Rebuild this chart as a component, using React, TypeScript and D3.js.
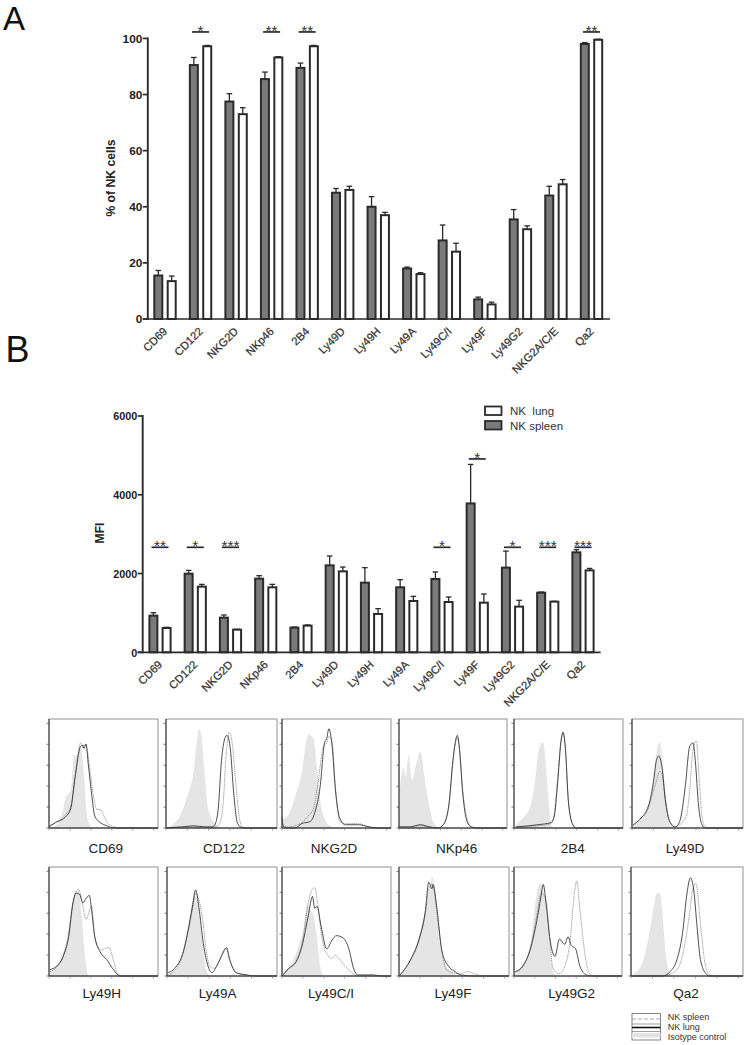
import React from "react";
import * as d3 from "d3";

const markers = ["CD69","CD122","NKG2D","NKp46","2B4","Ly49D","Ly49H","Ly49A","Ly49C/I","Ly49F","Ly49G2","NKG2A/C/E","Qa2"];

// Panel A (% of NK cells)
const pctSpleen = [15.5,90.5,77.5,85.5,89.5,45,40,18,28,7,35.5,44,98];
const pctSpleenTop = [17.3,93.2,80.3,88,91.2,46.5,43.6,18.5,33.5,7.8,39,47.3,98.5];
const pctLung = [13.5,97.2,73,93.2,97.2,46,37,16,24,5.2,32,48,99.5];
const pctLungTop = [15.3,97.5,75.3,93.5,97.5,47.3,38,16.5,27,6,33.2,49.7,99.7];
const pctStars: [string,string,number][] = [["CD122","*",102.3],["NKp46","**",102.3],["2B4","**",102.3],["Qa2","**",102.3]];
const pctTicks = [0,20,40,60,80,100];

// Panel B (MFI)
const mfiSpleen = [930,1996,880,1870,626,2208,1768,1650,1861,3780,2150,1514,2538];
const mfiSpleenTop = [1005,2080,947,1945,640,2445,2150,1845,2040,4770,2570,1530,2605];
const mfiLung = [617,1667,575,1650,677,2055,973,1303,1277,1260,1160,1286,2080];
const mfiLungTop = [635,1725,584,1725,694,2165,1108,1420,1405,1480,1320,1295,2130];
const mfiStars: [string,string,number][] = [["CD69","**",2666],["CD122","*",2666],["NKG2D","***",2666],["Ly49C/I","*",2666],["Ly49F","*",4910],["Ly49G2","*",2666],["NKG2A/C/E","***",2666],["Qa2","***",2666]];
const mfiTicks = [0,2000,4000,6000];

// Flow histograms: [fluorescence %, count %]
type P = [number,number];
const cd69Iso: P[] = [[0,0],[7,3],[13,17],[15,27],[20,35],[23,67],[26,66],[29,74],[32,50],[35,10],[38,2],[41,0]];
const cd69Lung: P[] = [[0,1],[6,5],[15,10],[20,18],[24,47],[29,75],[31,76],[32,73],[34,77],[36,59],[39,32],[42,11],[47,5],[53,2],[60,0],[100,0]];
const cd69Spleen: P[] = [[0,2],[6,5],[15,12],[20,20],[24,48],[29,78],[31,74],[33,77],[35,72],[38,50],[41,28],[44,17],[47,17],[50,12],[54,4],[60,1],[65,0],[100,0]];
const cd122Iso: P[] = [[2,1],[6,3],[14,14],[20,32],[25,53],[28,81],[30,91],[32,84],[35,47],[38,17],[43,6],[47,1],[50,0]];
const cd122Lung: P[] = [[0,0],[15,1],[25,2],[35,1],[42,1],[44,3],[47,17],[50,62],[53,82],[55,85],[58,72],[61,32],[64,6],[67,1],[72,0],[100,0]];
const cd122Spleen: P[] = [[0,0],[15,1],[25,1],[35,1],[46,1],[50,10],[52,30],[54,65],[56,84],[57,88],[60,75],[63,40],[66,10],[68,2],[72,0],[100,0]];
const nkg2dIso: P[] = [[1,8],[7,14],[13,32],[18,50],[22,78],[24,86],[26,85],[29,82],[32,56],[35,26],[39,9],[44,2],[48,0]];
const nkg2dLung: P[] = [[0,10],[1,2],[5,0],[12,0],[18,4],[26,6],[30,14],[35,38],[39,78],[41,82],[43,91],[46,75],[49,35],[53,9],[58,3],[70,3],[80,1],[88,0],[100,0]];
const nkg2dSpleen: P[] = [[0,10],[1,2],[5,1],[12,2],[18,5],[24,11],[29,18],[33,41],[38,75],[41,78],[43,84],[46,79],[49,38],[53,6],[58,4],[70,4],[80,1],[88,0],[100,0]];
const nkp46Iso: P[] = [[0,0],[1,38],[4,55],[6,47],[9,67],[12,44],[16,59],[20,70],[24,44],[27,26],[32,5],[36,1],[40,0]];
const nkp46Lung: P[] = [[0,1],[10,1],[20,3],[28,1],[36,0],[41,3],[46,20],[50,63],[52,78],[54,85],[56,72],[59,32],[63,6],[67,1],[72,0],[100,0]];
const nkp46Spleen: P[] = [[0,1],[10,1],[20,2],[28,1],[36,0],[41,3],[46,19],[50,60],[52,76],[54,83],[56,74],[59,35],[63,9],[67,1],[72,0],[100,0]];
const b4Iso: P[] = [[0,0],[2,3],[8,9],[15,20],[19,41],[22,66],[25,78],[27,78],[30,47],[33,11],[34,3],[36,0]];
const b4Lung: P[] = [[2,1],[22,3],[34,5],[37,11],[40,41],[43,78],[45,88],[47,75],[50,23],[54,3],[57,0],[100,0]];
const b4Spleen: P[] = [[2,1],[22,2],[34,4],[37,14],[40,45],[43,80],[45,87],[47,75],[50,24],[54,3],[57,0],[100,0]];
const d49Iso: P[] = [[1,1],[7,6],[15,20],[19,44],[22,69],[25,79],[28,56],[31,26],[34,6],[37,1],[40,0]];
const d49Lung: P[] = [[1,3],[7,8],[15,21],[19,40],[22,62],[24,66],[27,56],[30,26],[34,6],[39,1],[43,6],[48,38],[52,75],[55,78],[57,62],[60,20],[63,3],[66,0],[100,0]];
const d49Spleen: P[] = [[1,2],[7,7],[15,19],[19,33],[22,43],[25,52],[27,50],[30,26],[34,6],[38,1],[43,3],[49,11],[52,35],[55,72],[58,80],[60,53],[63,11],[66,1],[70,0],[100,0]];
const h49Iso: P[] = [[1,4],[10,15],[16,33],[21,64],[24,76],[27,79],[30,55],[33,18],[36,1],[39,0]];
const h49Lung: P[] = [[1,6],[7,9],[13,18],[18,36],[22,67],[25,76],[28,75],[31,67],[34,71],[37,74],[39,61],[42,36],[47,22],[53,15],[59,6],[65,0],[100,0]];
const h49Spleen: P[] = [[1,4],[7,8],[13,18],[18,37],[22,68],[27,80],[30,70],[34,52],[39,64],[42,36],[48,24],[51,25],[55,26],[59,15],[63,2],[68,0],[100,0]];
const a49Iso: P[] = [[1,1],[9,7],[15,24],[19,45],[22,64],[25,73],[28,69],[32,33],[35,9],[38,1],[41,0]];
const a49Lung: P[] = [[1,3],[7,7],[15,23],[19,41],[23,63],[26,79],[29,63],[33,30],[38,7],[41,3],[45,9],[50,19],[54,26],[57,15],[63,3],[72,1],[80,0],[100,0]];
const a49Spleen: P[] = [[1,1],[7,5],[15,22],[19,40],[23,60],[26,76],[29,70],[32,55],[36,21],[39,9],[43,7],[47,12],[50,21],[54,25],[57,15],[63,3],[72,1],[80,0],[100,0]];
const ci49Iso: P[] = [[1,2],[9,12],[15,27],[20,45],[23,65],[26,61],[29,55],[32,36],[35,9],[38,1],[41,0]];
const ci49Lung: P[] = [[1,1],[6,7],[13,13],[19,30],[24,55],[28,73],[30,62],[32,64],[36,45],[41,25],[46,33],[50,37],[56,35],[61,26],[66,6],[70,1],[84,1],[90,0],[100,0]];
const ci49Spleen: P[] = [[1,1],[6,6],[13,14],[19,33],[24,67],[27,78],[30,81],[33,64],[36,39],[42,19],[46,16],[49,19],[52,16],[58,9],[67,1],[72,0],[100,0]];
const f49Iso: P[] = [[1,1],[11,16],[17,33],[24,60],[28,82],[30,91],[33,76],[37,30],[42,12],[48,4],[54,0]];
const f49Lung: P[] = [[1,1],[11,16],[18,33],[24,60],[27,86],[30,80],[31,84],[34,66],[39,23],[45,9],[51,4],[56,1],[69,0],[100,0]];
const f49Spleen: P[] = [[1,1],[11,15],[18,32],[24,58],[27,80],[30,84],[32,78],[34,62],[39,22],[43,6],[49,3],[56,2],[62,4],[69,2],[76,0],[100,0]];
const g49Iso: P[] = [[1,1],[7,9],[15,27],[19,61],[24,85],[27,79],[32,45],[35,9],[38,1],[41,0]];
const g49Lung: P[] = [[1,4],[8,9],[15,24],[21,50],[25,73],[27,84],[30,64],[33,36],[38,18],[42,34],[47,29],[50,36],[53,28],[57,25],[61,9],[67,1],[72,0],[100,0]];
const g49Spleen: P[] = [[1,3],[8,8],[15,26],[21,55],[25,76],[27,75],[30,68],[33,35],[36,7],[42,2],[47,9],[52,33],[55,67],[58,87],[61,61],[66,18],[70,2],[75,0],[100,0]];
const qa2Iso: P[] = [[2,2],[10,12],[14,27],[19,55],[23,76],[26,76],[28,58],[31,21],[34,4],[36,0]];
const qa2Lung: P[] = [[0,0],[28,0],[35,4],[41,15],[46,39],[50,76],[53,90],[56,79],[59,45],[62,15],[67,2],[70,0],[100,0]];
const qa2Spleen: P[] = [[0,0],[28,0],[36,2],[43,9],[47,24],[52,55],[55,79],[58,85],[62,48],[66,12],[70,1],[75,0],[100,0]];

const histNames = ["CD69","CD122","NKG2D","NKp46","2B4","Ly49D","Ly49H","Ly49A","Ly49C/I","Ly49F","Ly49G2","Qa2"];
const histIso = [cd69Iso,cd122Iso,nkg2dIso,nkp46Iso,b4Iso,d49Iso,h49Iso,a49Iso,ci49Iso,f49Iso,g49Iso,qa2Iso];
const histLung = [cd69Lung,cd122Lung,nkg2dLung,nkp46Lung,b4Lung,d49Lung,h49Lung,a49Lung,ci49Lung,f49Lung,g49Lung,qa2Lung];
const histSpleen = [cd69Spleen,cd122Spleen,nkg2dSpleen,nkp46Spleen,b4Spleen,d49Spleen,h49Spleen,a49Spleen,ci49Spleen,f49Spleen,g49Spleen,qa2Spleen];

const FONT = "'Liberation Sans', Arial, sans-serif";
const DARK = "#2b2b2b";
const GRAY = "#7a7a7a";

const rowBoxes = [[719,828],[867,976]];
const colBoxes = [[[49,158],[166,277],[282,391],[399,507],[514,623],[632,743]],[[49,158],[167,277],[282,391],[399,509],[514,622],[631,743]]];
const captionX = [[105.7,224,334,456.7,572.7,685],[101.7,217.7,331,453,571.7,686]];
const captionY = [853,998];

function BarChart({ x0, x1, left, right, y0, y1, max, ticks, sp, spTop, lu, luTop, stars, title, titleX, titleY, halfGap, bw, tickFont }: any) {
  const x = d3.scalePoint<string>().domain(markers).range([x0, x1]);
  const y = d3.scaleLinear().domain([0, max]).range([y0, y1]);
  const bar = (c: string, v: number, top: number, dx: number, fill: string, k: string) => {
    const cx = (x(c) as number) + dx;
    return (
      <g key={k}>
        <line x1={cx} x2={cx} y1={y(v)} y2={y(top)} stroke={DARK} strokeWidth={1.3} />
        <line x1={cx - 2.8} x2={cx + 2.8} y1={y(top)} y2={y(top)} stroke={DARK} strokeWidth={1.3} />
        <rect x={cx - bw / 2} width={bw} y={y(v)} height={y0 - y(v)} fill={fill} stroke={DARK} strokeWidth={2} />
      </g>
    );
  };
  return (
    <g fontFamily={FONT}>
      {markers.map((c, i) => bar(c, lu[i], luTop[i], halfGap, "#fff", "l" + i))}
      {markers.map((c, i) => bar(c, sp[i], spTop[i], -halfGap, GRAY, "s" + i))}
      <line x1={left} x2={left} y1={y0 + 1} y2={y1 - 1} stroke={DARK} strokeWidth={1.9} />
      <line x1={left - 5} x2={right} y1={y0} y2={y0} stroke={DARK} strokeWidth={1.7} />
      {ticks.map((t: number) => (
        <g key={t}>
          <line x1={left - 5} x2={left} y1={y(t)} y2={y(t)} stroke={DARK} strokeWidth={1.7} />
          <text x={left - 5.5} y={y(t) + 4.2} textAnchor="end" fontSize={tickFont} fontWeight="bold" fill="#222">{t}</text>
        </g>
      ))}
      {markers.map((c) => (
        <text key={c} transform={`translate(${(x(c) as number) + 3},${y0 + 13}) rotate(-45)`} textAnchor="end" fontSize={11.2} stroke="#333" strokeWidth={0.25} fill="#333">{c}</text>
      ))}
      <text transform={`translate(${titleX},${titleY}) rotate(-90)`} textAnchor="middle" fontSize={12.2} fontWeight="bold" fill="#222">{title}</text>
      {stars.map(([c, s, v]: [string, string, number]) => {
        const cx = x(c) as number;
        return (
          <g key={c}>
            <line x1={cx - 8.5} x2={cx + 8.5} y1={y(v)} y2={y(v)} stroke={DARK} strokeWidth={1.7} />
            <text x={cx} y={y(v) + 3.6} textAnchor="middle" fontSize={15.5} fill="#333">{s}</text>
          </g>
        );
      })}
    </g>
  );
}

function Hist({ box, yr, iso, lung, spleen }: any) {
  const x = d3.scaleLinear().domain([0, 100]).range(box);
  const y = d3.scaleLinear().domain([0, 100]).range([yr[1], yr[0]]);
  const curve = d3.curveMonotoneX;
  const area = d3.area<P>().x((d) => x(d[0])).y0(yr[1]).y1((d) => y(d[1])).curve(curve);
  const line = d3.line<P>().x((d) => x(d[0])).y((d) => y(d[1])).curve(curve);
  const major = d3.range(0, 101, 19.2);
  const minor = d3.range(0, 101, 3.2);
  return (
    <g>
      <path d={area(iso) as string} fill="#e5e5e5" />
      <path d={line(spleen) as string} fill="none" stroke="#666" strokeWidth={0.6} strokeDasharray="1.4 0.7" />
      <path d={line(lung) as string} fill="none" stroke="#222" strokeWidth={0.8} />
      <rect x={box[0]} y={yr[0]} width={box[1] - box[0]} height={yr[1] - yr[0]} fill="none" stroke="#777" strokeWidth={0.8} />
      <line x1={box[0]} x2={box[0]} y1={yr[0]} y2={yr[1]} stroke="#333" strokeWidth={1} />
      <line x1={box[0]} x2={box[1]} y1={yr[1]} y2={yr[1]} stroke="#222" strokeWidth={1} />
      {major.map((t) => <line key={"y" + t} x1={box[0] - 2.5} x2={box[0]} y1={y(t)} y2={y(t)} stroke="#555" strokeWidth={0.8} />)}
      {minor.map((t) => <line key={"x" + t} x1={x(t)} x2={x(t)} y1={yr[1]} y2={yr[1] + (Math.round(t / 3.2) % 6 === 0 ? 2.5 : 1.2)} stroke="#666" strokeWidth={0.6} />)}
    </g>
  );
}

export default function App() {
  return (
    <svg width={745} height={1045} viewBox="0 0 745 1045" style={{ position: "absolute", left: 0, top: 0, display: "block", background: "#fff" }}>
      <text x={3} y={30} fontFamily={FONT} fontSize={33} fill="#111">A</text>
      <text x={5.5} y={362} fontFamily={FONT} fontSize={36} fill="#111">B</text>

      <BarChart x0={165} x1={591.5} left={147.8} right={610} y0={319} y1={38.4} max={100} ticks={pctTicks}
        sp={pctSpleen} spTop={pctSpleenTop} lu={pctLung} luTop={pctLungTop} stars={pctStars} tickFont={11.8}
        title="% of NK cells" titleX={115} titleY={178} halfGap={6.7} bw={8} />
      <BarChart x0={160} x1={583} left={142.7} right={600.7} y0={652.3} y1={416} max={6000} ticks={mfiTicks}
        sp={mfiSpleen} spTop={mfiSpleenTop} lu={mfiLung} luTop={mfiLungTop} stars={mfiStars} tickFont={10.8}
        title="MFI" titleX={104} titleY={533} halfGap={6.6} bw={8} />

      <g fontFamily={FONT} fontSize={11.5} fill="#333">
        <rect x={485} y={406.5} width={16.5} height={8.5} fill="#fff" stroke={DARK} strokeWidth={1.8} />
        <rect x={485} y={421} width={16.5} height={8.5} fill={GRAY} stroke={DARK} strokeWidth={1.8} />
        <text x={510} y={415} style={{ whiteSpace: "pre" }}>NK  lung</text>
        <text x={510} y={429.5}>NK spleen</text>
      </g>

      {histNames.map((n, i) => {
        const r = i < 6 ? 0 : 1;
        const c = i % 6;
        return (
          <g key={n}>
            <Hist box={colBoxes[r][c]} yr={rowBoxes[r]} iso={histIso[i]} lung={histLung[i]} spleen={histSpleen[i]} />
            <text x={captionX[r][c]} y={captionY[r]} textAnchor="middle" fontFamily={FONT} fontSize={13.5} fill="#222">{n}</text>
          </g>
        );
      })}

      <g fontFamily={FONT} fontSize={9} fill="#333">
        <rect x={632} y={1013.5} width={28.5} height={26.5} fill="none" stroke="#555" strokeWidth={0.7} />
        <line x1={632} x2={660.5} y1={1019} y2={1019} stroke="#888" strokeWidth={0.7} strokeDasharray="4 2" />
        <line x1={632} x2={660.5} y1={1024} y2={1024} stroke="#777" strokeWidth={0.7} />
        <line x1={632} x2={660.5} y1={1027.5} y2={1027.5} stroke="#111" strokeWidth={1.6} />
        <line x1={632} x2={660.5} y1={1031.5} y2={1031.5} stroke="#777" strokeWidth={0.7} />
        <rect x={632} y={1033} width={28.5} height={4.5} fill="#e3e3e3" />
        <text x={667.7} y={1019.5}>NK spleen</text>
        <text x={667.7} y={1029.5}>NK lung</text>
        <text x={667.7} y={1039.5}>Isotype control</text>
      </g>
    </svg>
  );
}
